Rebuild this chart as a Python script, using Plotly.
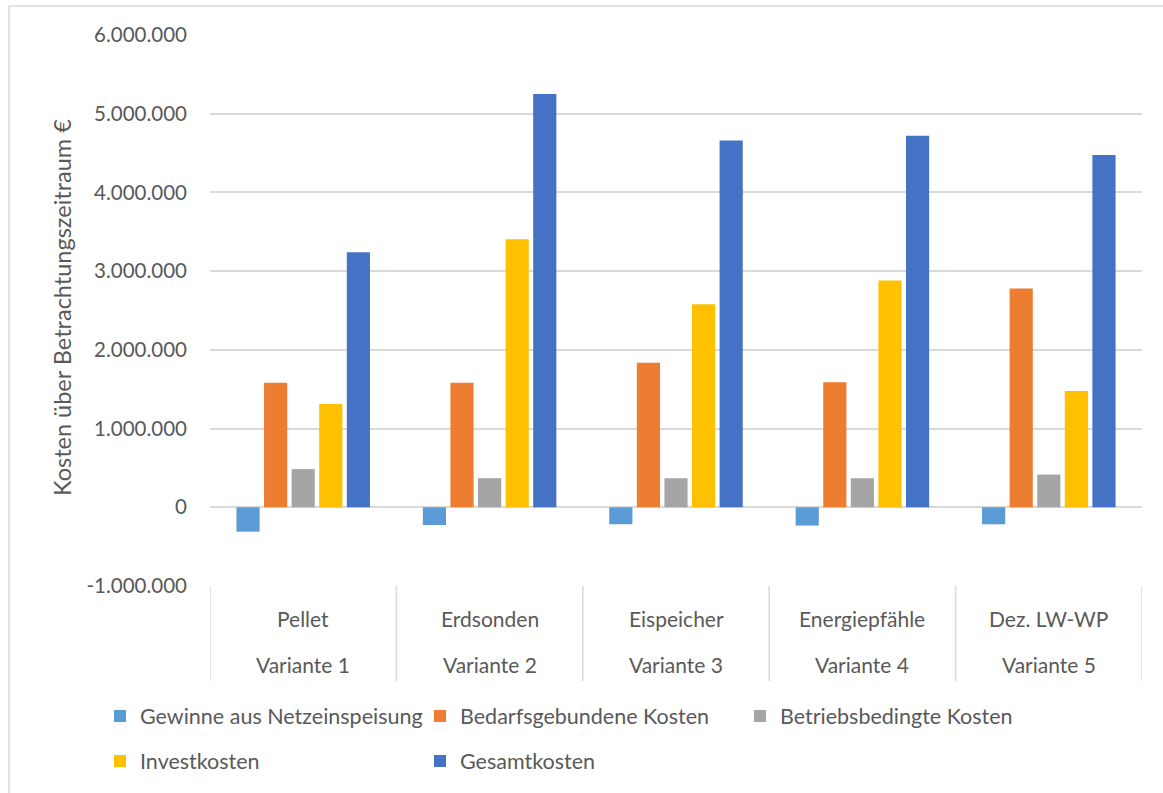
import plotly.graph_objects as go

# Kategorien (zwei Beschriftungszeilen der x-Achse)
systeme = ["Pellet", "Erdsonden", "Eispeicher", "Energiepfähle", "Dez. LW-WP"]
varianten = ["Variante 1", "Variante 2", "Variante 3", "Variante 4", "Variante 5"]

# Kosten über den Betrachtungszeitraum in €
gewinne_netz = [-310000, -225000, -215000, -232000, -216000]
bedarfsgebunden = [1582000, 1582000, 1836000, 1590000, 2780000]
betriebsbedingt = [485000, 370000, 369000, 369000, 416000]
invest = [1312000, 3405000, 2580000, 2880000, 1476000]
gesamt = [3240000, 5250000, 4660000, 4720000, 4475000]

serien = [
    ("Gewinne aus Netzeinspeisung", gewinne_netz, "#5B9BD5", "legend"),
    ("Bedarfsgebundene Kosten", bedarfsgebunden, "#ED7D31", "legend"),
    ("Betriebsbedingte Kosten", betriebsbedingt, "#A5A5A5", "legend"),
    ("Investkosten", invest, "#FFC000", "legend2"),
    ("Gesamtkosten", gesamt, "#4472C4", "legend2"),
]

y_ticks = [-1000000, 0, 1000000, 2000000, 3000000, 4000000, 5000000, 6000000]
y_ticktext = ["-1.000.000", "0", "1.000.000", "2.000.000", "3.000.000",
              "4.000.000", "5.000.000", "6.000.000"]

TEXT = "#595959"
GRID = "#D9D9D9"
FONT = "Lato"

fig = go.Figure()
for name, vals, col, leg in serien:
    fig.add_trace(go.Bar(
        x=varianten, y=vals, name=name, marker_color=col,
        marker_line_width=0, legend=leg,
    ))

# Geometrie der Zeichenfläche in Pixeln
W, H = 1163, 793
L, R, T, B = 210, 21, 35, 207
pw, ph = W - L - R, H - T - B


def px_x(x):
    return (x - L) / pw


def px_y(y):
    return (H - B - y) / ph


shapes = []
annotations = []

# Tabellenartige Kategorieachse
for i in range(len(varianten) + 1):
    shapes.append(dict(type="line", xref="x", yref="paper",
                       x0=i - 0.5, x1=i - 0.5, y0=0, y1=px_y(681),
                       line=dict(color=GRID, width=1.5)))
for i, (s, v) in enumerate(zip(systeme, varianten)):
    annotations.append(dict(x=v, y=px_y(618), xref="x", yref="paper",
                            text=s, showarrow=False, xanchor="center",
                            yanchor="middle",
                            font=dict(family=FONT, size=21, color=TEXT)))
    annotations.append(dict(x=v, y=px_y(664), xref="x", yref="paper",
                            text=v, showarrow=False, xanchor="center",
                            yanchor="middle",
                            font=dict(family=FONT, size=21, color=TEXT)))

# Achsentitel
annotations.append(dict(x=px_x(62), y=px_y(308), xref="paper", yref="paper",
                        text="Kosten über Betrachtungszeitraum €",
                        textangle=-90, showarrow=False,
                        xanchor="center", yanchor="middle",
                        font=dict(family=FONT, size=23.5, color=TEXT)))

# Rahmen des Diagrammbereichs
shapes.append(dict(type="rect", xref="paper", yref="paper",
                   x0=px_x(9), x1=px_x(1175), y0=px_y(6), y1=px_y(805),
                   line=dict(color=GRID, width=1.5), layer="below"))

legend_font = dict(family=FONT, size=21.5, color=TEXT)
fig.update_layout(
    width=W, height=H,
    margin=dict(l=L, r=R, t=T, b=B),
    paper_bgcolor="white", plot_bgcolor="white",
    barmode="group", bargap=0.26, bargroupgap=0.16,
    font=dict(family=FONT, color=TEXT),
    xaxis=dict(type="category", showticklabels=False, showgrid=False,
               showline=False, ticks="", range=[-0.5, 4.5]),
    yaxis=dict(range=[-1000000, 6000000], tickvals=y_ticks, ticktext=y_ticktext,
               showgrid=True, gridcolor=GRID, gridwidth=1.5,
               zeroline=True, zerolinecolor=GRID, zerolinewidth=1.5,
               showline=False, ticks="", ticklabelstandoff=22,
               tickfont=dict(family=FONT, size=20.5, color=TEXT)),
    legend=dict(orientation="h", x=px_x(100), y=px_y(716), xanchor="left",
                yanchor="middle", entrywidth=275, entrywidthmode="pixels",
                font=legend_font, bgcolor="rgba(0,0,0,0)"),
    legend2=dict(orientation="h", x=px_x(100), y=px_y(761), xanchor="left",
                 yanchor="middle", entrywidth=275, entrywidthmode="pixels",
                 font=legend_font, bgcolor="rgba(0,0,0,0)"),
    shapes=shapes,
    annotations=annotations,
)

fig.write_html("out.html")
